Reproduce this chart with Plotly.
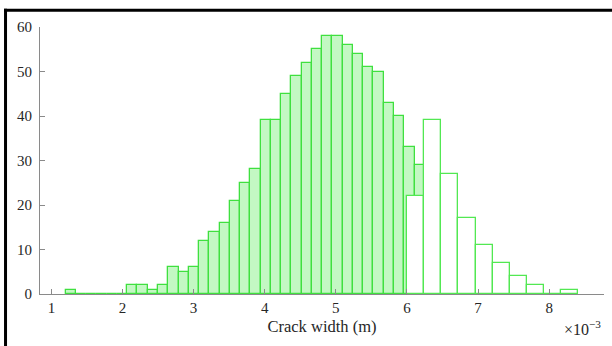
import plotly.graph_objects as go

# ---- data (crack width in metres) ----
filled_start = 1.20e-3
filled_width = 0.1443e-3
filled_counts = [1, 0, 0, 0, 0, 0, 2, 2, 1, 2, 6, 5, 6, 12, 14, 16, 21, 25, 28,
                 39, 39, 45, 49, 52, 55, 58, 58, 56, 54, 51, 50, 43, 40, 33, 29]

open_start = 6.00e-3
open_width = 0.241e-3
open_counts = [22, 39, 27, 17, 11, 7, 4, 2, 0, 1]

x_tickvals = [1e-3, 2e-3, 3e-3, 4e-3, 5e-3, 6e-3, 7e-3, 8e-3]
x_ticktext = ["1", "2", "3", "4", "5", "6", "7", "8"]
y_tickvals = [0, 10, 20, 30, 40, 50, 60]


def centers(start, width, counts):
    return [start + (i + 0.5) * width for i in range(len(counts))]


def zero_segments(start, width, counts):
    xs, ys = [], []
    for i, c in enumerate(counts):
        if c == 0:
            xs += [start + i * width, start + (i + 1) * width, None]
            ys += [0, 0, None]
    return xs, ys


EDGE = "#3fe03f"
EDGE2 = "#52e852"
FILL = "#c3f8c3"
FONT = "Liberation Serif"

fig = go.Figure()
fig.add_trace(go.Bar(
    x=centers(filled_start, filled_width, filled_counts), y=filled_counts,
    width=filled_width, marker=dict(color=FILL, line=dict(color=EDGE, width=1.3)),
    showlegend=False))
zx, zy = zero_segments(filled_start, filled_width, filled_counts)
fig.add_trace(go.Scatter(x=zx, y=zy, mode="lines", line=dict(color=EDGE, width=1.3),
                         showlegend=False, cliponaxis=False))
fig.add_trace(go.Bar(
    x=centers(open_start, open_width, open_counts), y=open_counts,
    width=open_width, marker=dict(color="white", line=dict(color=EDGE2, width=1.3)),
    showlegend=False))
zx, zy = zero_segments(open_start, open_width, open_counts)
fig.add_trace(go.Scatter(x=zx, y=zy, mode="lines", line=dict(color=EDGE2, width=1.3),
                         showlegend=False, cliponaxis=False))

# plot-area geometry (pixels)
L, R, T, B = 40, 604.5, 27.3, 294
W, H = 612, 346
pw, ph = R - L, B - T


def px(xp):
    return (xp - L) / pw


def py(yp):
    return (B - yp) / ph


fig.update_layout(
    width=W, height=H,
    margin=dict(l=L, r=W - R, t=T, b=H - B, pad=0, autoexpand=False),
    paper_bgcolor="white", plot_bgcolor="white",
    barmode="overlay", bargap=0,
    font=dict(family=FONT, size=15, color="#262626"),
    xaxis=dict(range=[0.84e-3, 8.77e-3], tickvals=x_tickvals, ticktext=x_ticktext,
               showline=True, linecolor="#8a8a8a", linewidth=1.2,
               ticks="inside", ticklen=5, tickcolor="#8a8a8a", tickwidth=1,
               showgrid=False, zeroline=False, automargin=False,
               title=dict(text="Crack width (m)", standoff=5,
                          font=dict(family=FONT, size=16.5, color="#262626"))),
    yaxis=dict(range=[0, 60], tickvals=y_tickvals,
               showline=True, linecolor="#8a8a8a", linewidth=1.2,
               ticks="inside", ticklen=5, tickcolor="#8a8a8a", tickwidth=1,
               ticklabelstandoff=4, automargin=False,
               showgrid=False, zeroline=False),
    annotations=[dict(text="×10<sup>−3</sup>", xref="paper", yref="paper",
                      x=px(603), y=py(328), xanchor="right", yanchor="middle",
                      showarrow=False, font=dict(family=FONT, size=16, color="#262626"))],
    shapes=[
        dict(type="line", xref="paper", yref="paper", x0=px(5.5), x1=px(5.5),
             y0=py(9), y1=py(350), line=dict(color="black", width=3)),
        dict(type="line", xref="paper", yref="paper", x0=px(4), x1=px(615),
             y0=py(10.5), y1=py(10.5), line=dict(color="black", width=3)),
    ],
)

fig.write_html("out.html", config={"displayModeBar": False},
               post_script="document.body.style.margin='0';")
